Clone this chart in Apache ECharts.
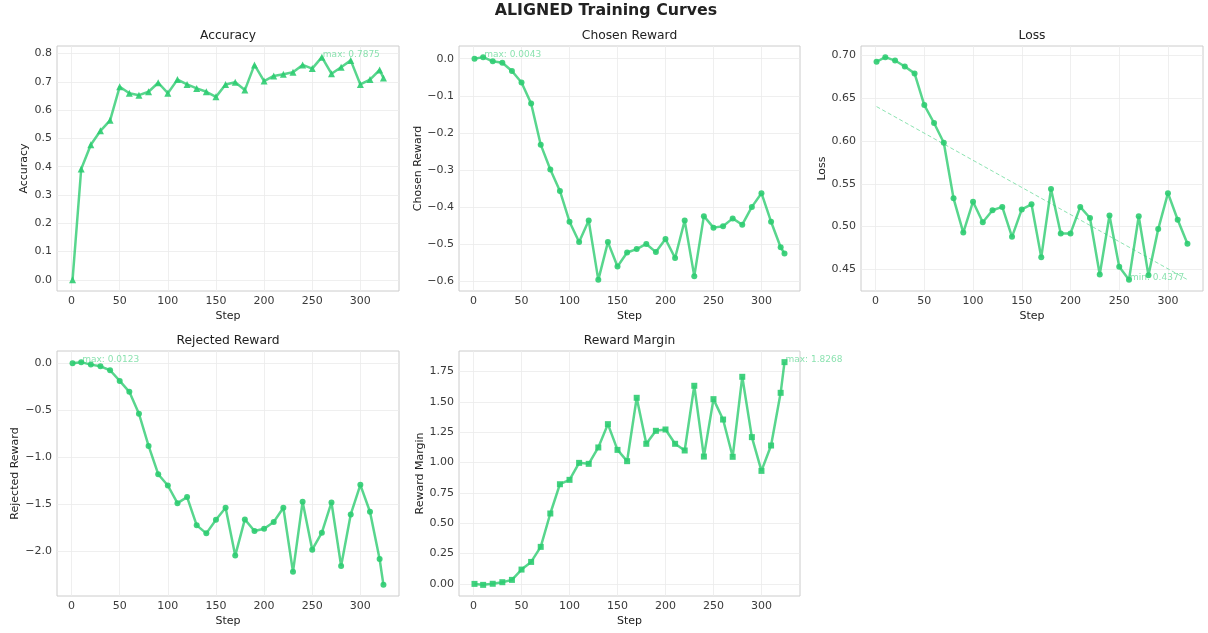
<!DOCTYPE html>
<html>
<head>
<meta charset="utf-8">
<title>ALIGNED Training Curves</title>
<script src="https://cdn.jsdelivr.net/npm/echarts@6/dist/echarts.min.js"></script>
<style>
  html, body { margin: 0; padding: 0; background: #ffffff; }
  #chart { width: 1208px; height: 633px; }
</style>
</head>
<body>
<div id="chart"></div>
<script>
// Logged training steps
const steps = [1, 10, 20, 30, 40, 50, 60, 70, 80, 90, 100, 110, 120, 130, 140, 150, 160,
  170, 180, 190, 200, 210, 220, 230, 240, 250, 260, 270, 280, 290, 300, 310, 320, 324];
const lossSteps = [1, 10, 20, 30, 40, 50, 60, 70, 80, 90, 100, 110, 120, 130, 140, 150, 160,
  170, 180, 190, 200, 210, 220, 230, 240, 250, 260, 270, 280, 290, 300, 310, 320];

// Metric values per step
const accuracy = [0.0, 0.392, 0.478, 0.527, 0.564, 0.683, 0.660, 0.653, 0.665, 0.697, 0.660,
  0.708, 0.691, 0.677, 0.665, 0.647, 0.691, 0.699, 0.671, 0.760, 0.703, 0.721, 0.727, 0.734,
  0.760, 0.747, 0.7875, 0.729, 0.752, 0.776, 0.691, 0.708, 0.742, 0.714];
const chosenReward = [0.0, 0.0043, -0.007, -0.011, -0.033, -0.064, -0.121, -0.232, -0.299,
  -0.357, -0.440, -0.495, -0.437, -0.597, -0.495, -0.561, -0.523, -0.514, -0.500, -0.522,
  -0.487, -0.538, -0.437, -0.587, -0.425, -0.456, -0.452, -0.431, -0.448, -0.400, -0.363,
  -0.440, -0.509, -0.526];
const loss = [0.6926, 0.698, 0.694, 0.687, 0.679, 0.642, 0.621, 0.598, 0.533, 0.493, 0.529,
  0.505, 0.519, 0.523, 0.488, 0.520, 0.526, 0.464, 0.544, 0.492, 0.492, 0.523, 0.510, 0.444,
  0.513, 0.453, 0.4377, 0.512, 0.443, 0.497, 0.539, 0.508, 0.480];
const rejectedReward = [0.0, 0.0123, -0.014, -0.032, -0.074, -0.187, -0.303, -0.536, -0.878,
  -1.178, -1.298, -1.485, -1.421, -1.721, -1.806, -1.661, -1.534, -2.042, -1.658, -1.781,
  -1.757, -1.686, -1.534, -2.215, -1.471, -1.979, -1.799, -1.478, -2.152, -1.605, -1.291,
  -1.577, -2.078, -2.353];
const rewardMargin = [0.0, -0.008, 0.001, 0.014, 0.033, 0.118, 0.181, 0.305, 0.580, 0.821,
  0.857, 0.997, 0.989, 1.124, 1.316, 1.104, 1.011, 1.533, 1.154, 1.261, 1.272, 1.154, 1.099,
  1.632, 1.049, 1.522, 1.354, 1.047, 1.706, 1.209, 0.931, 1.140, 1.574, 1.8268];

// Tick labels
const stepTicks = [0, 50, 100, 150, 200, 250, 300];
const accuracyTicks = [0.0, 0.1, 0.2, 0.3, 0.4, 0.5, 0.6, 0.7, 0.8];
const chosenTicks = [-0.6, -0.5, -0.4, -0.3, -0.2, -0.1, 0.0];
const lossTicks = [0.45, 0.50, 0.55, 0.60, 0.65, 0.70];
const rejectedTicks = [-2.0, -1.5, -1.0, -0.5, 0.0];
const marginTicks = [0.00, 0.25, 0.50, 0.75, 1.00, 1.25, 1.50, 1.75];

const FONT = 'DejaVu Sans';
const GREEN = '#2ecc71';
const LINE = 'rgba(46,204,113,0.8)';
const NOTE = 'rgba(46,204,113,0.7)';

function pairs(xs, ys) { return xs.map((x, i) => [x, ys[i]]); }

// Padded axis range (5% on each side of the data extent)
function padded(values) {
  const lo = Math.min(...values), hi = Math.max(...values);
  const pad = (hi - lo) * 0.05;
  return [lo - pad, hi + pad];
}

// Least-squares trend for the loss curve
function linearFit(xs, ys) {
  const n = xs.length;
  const mx = xs.reduce((a, b) => a + b, 0) / n;
  const my = ys.reduce((a, b) => a + b, 0) / n;
  let sxy = 0, sxx = 0;
  for (let i = 0; i < n; i++) { sxy += (xs[i] - mx) * (ys[i] - my); sxx += (xs[i] - mx) ** 2; }
  const k = sxy / sxx;
  return [k, my - k * mx];
}

const panels = [
  { title: 'Accuracy', yName: 'Accuracy', x: steps, y: accuracy, ticks: accuracyTicks, digits: 1,
    symbol: 'triangle', size: 7, note: 'max', grid: { left: 57, top: 46, width: 342, height: 245 }, nameGap: 27 },
  { title: 'Chosen Reward', yName: 'Chosen Reward', x: steps, y: chosenReward, ticks: chosenTicks, digits: 1,
    symbol: 'circle', size: 6, note: 'max', grid: { left: 459, top: 46, width: 341, height: 245 }, nameGap: 35 },
  { title: 'Loss', yName: 'Loss', x: lossSteps, y: loss, ticks: lossTicks, digits: 2,
    symbol: 'circle', size: 6, note: 'min', trend: true, grid: { left: 861, top: 46, width: 342, height: 245 }, nameGap: 33 },
  { title: 'Rejected Reward', yName: 'Rejected Reward', x: steps, y: rejectedReward, ticks: rejectedTicks, digits: 1,
    symbol: 'circle', size: 6, note: 'max', grid: { left: 57, top: 351, width: 342, height: 245 }, nameGap: 36 },
  { title: 'Reward Margin', yName: 'Reward Margin', x: steps, y: rewardMargin, ticks: marginTicks, digits: 2,
    symbol: 'rect', size: 6, note: 'max', grid: { left: 459, top: 351, width: 341, height: 245 }, nameGap: 33 }
];

const grid = [], xAxis = [], yAxis = [], series = [];
const graphic = [{
  type: 'text', x: 606, y: 10.5,
  style: { text: 'ALIGNED Training Curves', font: 'bold 15.8px "' + FONT + '"', fill: '#222', align: 'center', verticalAlign: 'middle' }
}];

panels.forEach((p, i) => {
  const g = p.grid;
  grid.push(Object.assign({ show: true, borderColor: '#cccccc', borderWidth: 1, backgroundColor: '#ffffff' }, g));
  graphic.push({
    type: 'text', x: g.left + g.width / 2, y: g.top - 10,
    style: { text: p.title, font: '12.3px "' + FONT + '"', fill: '#222', align: 'center', verticalAlign: 'middle' }
  });

  const [xmin, xmax] = padded(p.x);
  const [ymin, ymax] = padded(p.y);
  const axisText = { color: '#3a3a3a', fontFamily: FONT, fontSize: 11 };

  xAxis.push({
    type: 'value', gridIndex: i, min: xmin, max: xmax,
    name: 'Step', nameLocation: 'middle', nameGap: 20,
    nameTextStyle: { color: '#222', fontFamily: FONT, fontSize: 11 },
    axisLine: { show: false },
    axisTick: { show: false, customValues: stepTicks },
    axisLabel: Object.assign({ customValues: stepTicks, margin: 5, formatter: v => String(v) }, axisText),
    splitLine: { show: true, lineStyle: { color: '#ebebeb', width: 0.8 } }
  });
  yAxis.push({
    type: 'value', gridIndex: i, min: ymin, max: ymax,
    name: p.yName, nameLocation: 'middle', nameGap: p.nameGap,
    nameTextStyle: { color: '#222', fontFamily: FONT, fontSize: 11 },
    axisLine: { show: false },
    axisTick: { show: false, customValues: p.ticks },
    axisLabel: Object.assign({
      customValues: p.ticks, margin: 5,
      formatter: v => (v < 0 ? '\u2212' : '') + Math.abs(v).toFixed(p.digits)
    }, axisText),
    splitLine: { show: true, lineStyle: { color: '#ebebeb', width: 0.8 } }
  });

  if (p.trend) {
    const [k, b] = linearFit(p.x, p.y);
    const x0 = p.x[0], x1 = p.x[p.x.length - 1];
    series.push({
      type: 'line', xAxisIndex: i, yAxisIndex: i, silent: true, symbol: 'none', z: 1,
      data: [[x0, k * x0 + b], [x1, k * x1 + b]],
      lineStyle: { color: 'rgba(46,204,113,0.55)', width: 1, type: [4, 2.5] }
    });
  }

  series.push({
    type: 'line', xAxisIndex: i, yAxisIndex: i, data: pairs(p.x, p.y),
    symbol: p.symbol, symbolSize: p.size, showAllSymbol: true,
    lineStyle: { color: LINE, width: 2.5 },
    itemStyle: { color: GREEN, opacity: 0.9 },
    z: 2
  });

  // Extreme-value note placed just beside its point
  const target = p.note === 'max' ? Math.max(...p.y) : Math.min(...p.y);
  const at = p.y.indexOf(target);
  series.push({
    type: 'scatter', xAxisIndex: i, yAxisIndex: i, silent: true, symbolSize: 0, z: 5,
    data: [[p.x[at], target]],
    label: {
      show: true, position: 'right', distance: 1, offset: [0, -2.5],
      formatter: p.note + ': ' + target.toFixed(4),
      color: NOTE, fontFamily: FONT, fontSize: 9
    }
  });
});

const chart = echarts.init(document.getElementById('chart'), null, { renderer: 'canvas' });
chart.setOption({
  animation: false,
  backgroundColor: '#ffffff',
  grid, xAxis, yAxis, series, graphic
});
</script>
</body>
</html>
